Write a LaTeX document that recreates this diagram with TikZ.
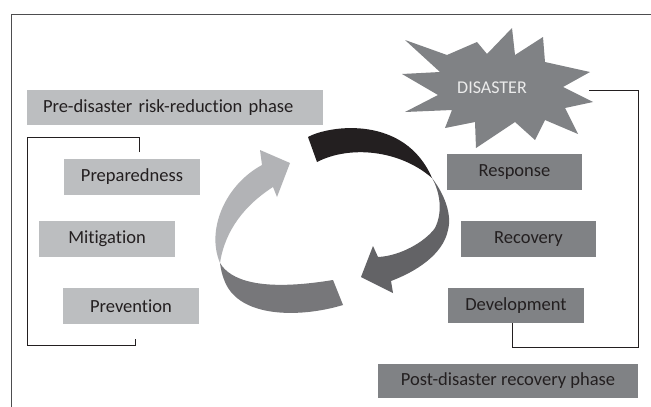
\documentclass[tikz,border=0pt]{standalone}
\usepackage{fontspec}
\setmainfont{Carlito}[Ligatures={NoCommon,NoContextual}]
\definecolor{lightg}{HTML}{BCBEC0}
\definecolor{darkg}{HTML}{808285}
\definecolor{txt}{HTML}{231F20}
\definecolor{arrlight}{HTML}{B2B3B6}
\definecolor{arrmid}{HTML}{77777A}
\definecolor{arrdark}{HTML}{636366}
\definecolor{arrblack}{HTML}{231F20}
\definecolor{framec}{HTML}{4D4D4F}
\begin{document}
\begin{tikzpicture}[x=1pt,y=-1pt,
  boxbase/.style={rectangle, inner sep=0pt, minimum height=36pt, text=txt,
    font=\fontsize{18.5}{22}\selectfont},
  lightbox/.style={boxbase, fill=lightg},
  darkbox/.style={boxbase, fill=darkg},
  bracketline/.style={draw=txt, line width=1pt},
  frameline/.style={draw=framec, line width=1pt}]
\useasboundingbox (0,0) rectangle (651,407);
\fill[white] (0,0) rectangle (651,407);
% frame
\coordinate (fbl) at (11,407);
\coordinate (ftl) at (11,14);
\coordinate (ftr) at (651,14);
\draw[frameline] (fbl) -- (ftl) -- (ftr);

% left (pre-disaster) boxes
\node[lightbox, minimum height=35pt, text width=264pt, inner xsep=16pt, align=left] (pre) at (175,107.5) {Pre-disaster risk-reduction phase};
\node[lightbox, minimum width=136pt] (prep) at (132,177) {Preparedness};
\node[lightbox, minimum width=136pt] (miti) at (107,239) {Mitigation};
\node[lightbox, minimum width=136pt] (prev) at (131,306) {Prevention};

% right (post-disaster) boxes
\node[darkbox, minimum width=135pt] (resp) at (514.5,172) {Response};
\node[darkbox, minimum width=135pt] (reco) at (528.5,239) {Recovery};
\node[darkbox, minimum width=136pt, minimum height=35pt] (deve) at (516,305.5) {Development};
\node[darkbox, minimum width=260pt, minimum height=34pt] (post) at (508,381) {Post-disaster recovery phase};

% star
\fill[darkg] (405,40) -- (447,55) -- (477,42) -- (487,54) -- (512,28) -- (515,55)
  -- (543,37) -- (545,62) -- (590,72) -- (563,87) -- (593,102) -- (565,108)
  -- (578,134) -- (545,120) -- (535,140) -- (515,122) -- (476,148) -- (475,122)
  -- (445,128) -- (452,110) -- (405,112) -- (438,95) -- (402,74) -- (440,72) -- cycle;
\node[text=white!92!black, font=\fontsize{18}{20}\selectfont, inner sep=0pt] (dis) at (492,88) {DISASTER};

% brackets
\coordinate (lb1) at (139,152);
\coordinate (lb2) at (139,137);
\coordinate (lb3) at (27,137);
\coordinate (lb4) at (27,345);
\coordinate (lb5) at (135,345);
\coordinate (lb6) at (135,339);
\draw[bracketline] (lb1) -- (lb2) -- (lb3) -- (lb4) -- (lb5) -- (lb6);
\coordinate (rb1) at (589,90);
\coordinate (rb2) at (638,90);
\coordinate (rb3) at (638,347);
\coordinate (rb4) at (512,347);
\draw[bracketline] (rb1) -- (rb2) -- (rb3) -- (rb4) -- (deve.south -| rb4);

% cycle arrows
\fill[arrblack] (308,137) .. controls (330,125) and (405,115) .. (432,178)
  .. controls (400,150) and (350,145) .. (317,162) -- cycle;
\fill[arrdark] (432,178) .. controls (445,195) and (452,215) .. (448,230)
  .. controls (443,255) and (415,272) .. (391,281)
  -- (393,293) -- (361,277) -- (373,246) -- (378,257)
  .. controls (400,256) and (425,242) .. (435,228)
  .. controls (443,212) and (440,192) .. (432,178) -- cycle;
\fill[arrmid] (333,280) -- (343,305)
  .. controls (300,318) and (240,318) .. (225,282)
  .. controls (222,275) and (221,270) .. (220,263)
  .. controls (230,280) and (260,292) .. (333,280) -- cycle;
\fill[arrlight] (220,263) .. controls (206,230) and (225,185) .. (262,165)
  -- (260,150) -- (290,163) -- (277,197) -- (273,187)
  .. controls (245,205) and (225,230) .. (220,263) -- cycle;
\end{tikzpicture}
\end{document}
